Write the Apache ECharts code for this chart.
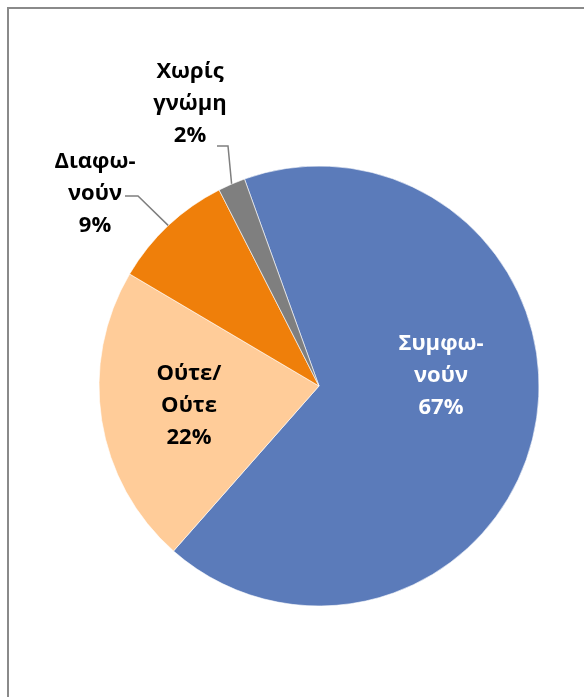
<!DOCTYPE html>
<html>
<head>
<meta charset="utf-8">
<script src="https://cdn.jsdelivr.net/npm/echarts@6/dist/echarts.min.js"></script>
<style>
    html, body { margin: 0; padding: 0; background: #fff; }
    #chart { width: 584px; height: 697px; }
</style>
</head>
<body>
<div id="chart"></div>
<script>
    // κατηγορίες και ποσοστά (διαβασμένα από την εικόνα)
    var categories = ['Συμφωνούν', 'Ούτε/Ούτε', 'Διαφωνούν', 'Χωρίς γνώμη'];
    var labelTexts = ['Συμφω-\nνούν', 'Ούτε/\nΟύτε', 'Διαφω-\nνούν', 'Χωρίς\nγνώμη'];
    var values = [67, 22, 9, 2];
    var colors = ['#5b7bba', '#ffcc99', '#ef7f0a', '#7f7f7f'];
    var labelColors = ['#ffffff', '#000000', '#000000', '#000000'];
    var outside = [false, false, true, true];

    // θέσεις ετικετών
    var labelPos = [[441, 376], [189, 406], [95, 194], [190, 104]];
    var leaderPts = [null, null, [[138, 196], [125, 196]], [[228, 146], [217, 146]]];

    var myChart = echarts.init(document.getElementById('chart'));

    var pieData = [];
    for (var i = 0; i < values.length; i++) {
        pieData.push({
            name: categories[i],
            value: values[i],
            itemStyle: {color: colors[i]},
            label: {
                position: outside[i] ? 'outside' : 'inside',
                color: labelColors[i],
                formatter: labelTexts[i] + '\n' + values[i] + '%'
            },
            labelLine: {show: outside[i]}
        });
    }

    var options = {
        animation: false,
        graphic: [{
            type: 'rect',
            shape: {x: 8, y: 8, width: 640, height: 760},
            style: {fill: 'none', stroke: '#8a8a8a', lineWidth: 2},
            silent: true
        }],
        series: [{
            type: 'pie',
            center: [319, 386],
            radius: 220,
            startAngle: 109.8,
            clockwise: true,
            itemStyle: {borderColor: '#ffffff', borderWidth: 0.6},
            label: {
                show: true,
                fontFamily: 'Open Sans',
                fontWeight: 'bold',
                fontSize: 22,
                lineHeight: 32,
                align: 'center',
                overflow: 'none',
                bleedMargin: 0
            },
            labelLine: {
                length: 40,
                length2: 12,
                lineStyle: {color: '#7f7f7f', width: 1.5}
            },
            labelLayout: function (p) {
                var idx = p.dataIndex;
                var res = {
                    x: labelPos[idx][0],
                    y: labelPos[idx][1],
                    align: 'center',
                    verticalAlign: 'middle'
                };
                if (leaderPts[idx] && p.labelLinePoints) {
                    res.labelLinePoints = [p.labelLinePoints[0], leaderPts[idx][0], leaderPts[idx][1]];
                }
                return res;
            },
            data: pieData
        }]
    };
    myChart.setOption(options);
</script>
</body>
</html>
